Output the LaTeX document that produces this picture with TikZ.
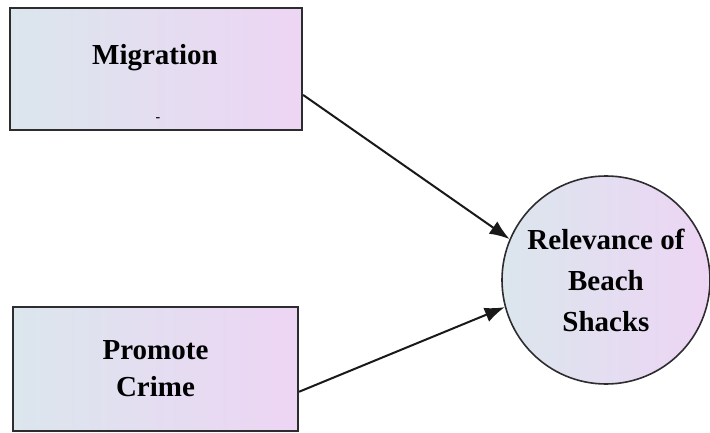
\documentclass[tikz,border=0pt]{standalone}
\usepackage{fontspec}
\setmainfont{Liberation Serif}
\usetikzlibrary{arrows.meta,shadings}
\definecolor{shadeL}{RGB}{219,230,237}
\definecolor{shadeR}{RGB}{237,213,244}
\definecolor{edge}{RGB}{45,45,48}
\tikzset{
  factor/.style={draw=edge, line width=2.2pt, rectangle, inner sep=0pt,
    left color=shadeL, right color=shadeR, align=center,
    font=\fontsize{29}{37}\selectfont\bfseries},
  outcome/.style={draw=edge, line width=1.6pt, circle, inner sep=0pt,
    minimum size=208pt, left color=shadeL, right color=shadeR, align=center,
    font=\fontsize{29}{41}\selectfont\bfseries},
  link/.style={draw=black!90, line width=2pt,
    -{Latex[length=20pt,width=15pt]}}
}
\begin{document}
\begin{tikzpicture}[x=1pt,y=-1pt]
  \useasboundingbox (0,0) rectangle (710,433);
  % cause boxes
  \node[factor, minimum width=292pt, minimum height=122pt] (mig) at (156,69) {};
  \node[font=\fontsize{29}{37}\selectfont\bfseries] (migtxt) at (155,58) {Migration};
  \node[font=\fontsize{14}{14}\selectfont\bfseries] (dash) at (158,120) {-};
  \node[factor, minimum width=285pt, minimum height=124pt] (crime) at (155.5,369) {Promote\\Crime};
  % outcome
  \node[outcome] (rel) at (606,280) {Relevance of\\Beach\\Shacks};
  % links
  \draw[link] (mig.-10) -- (rel.157);
  \draw[link] (crime.-9) -- (rel.195);
\end{tikzpicture}
\end{document}
